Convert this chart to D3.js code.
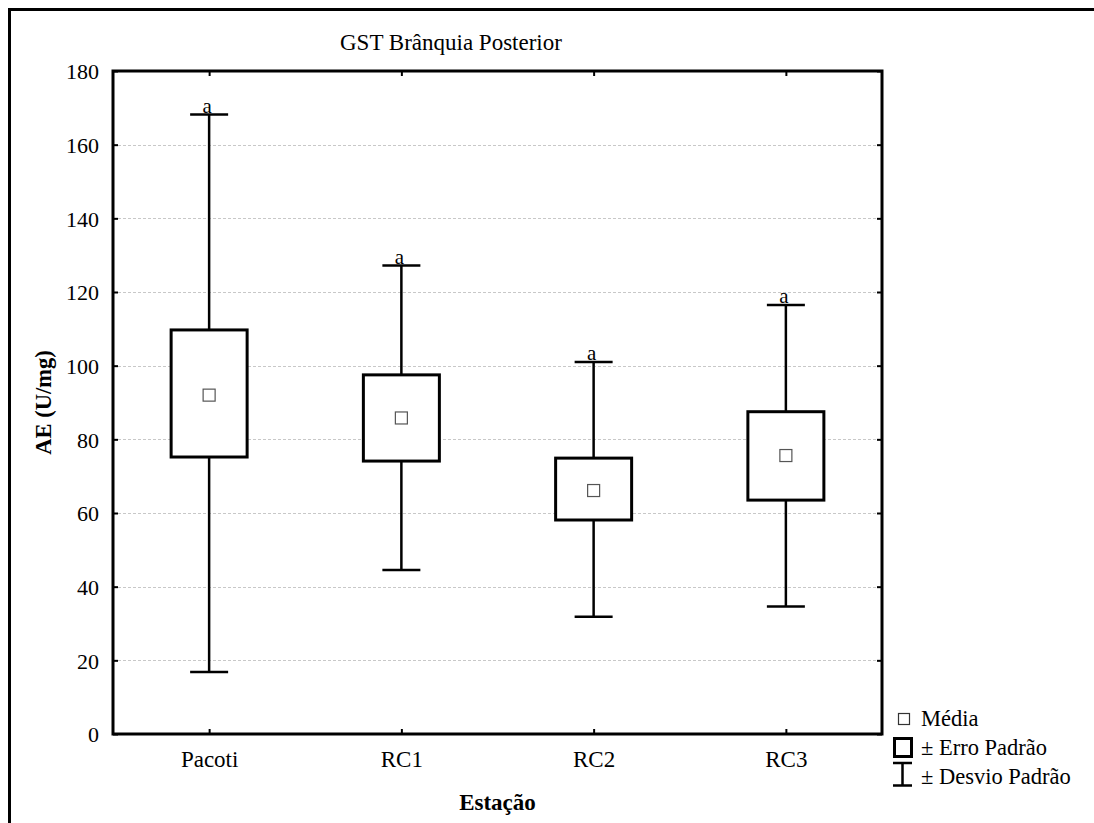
<!DOCTYPE html>
<html lang="en">
<head>
  <meta charset="UTF-8">
  <title>GST Brânquia Posterior</title>
  <script src="https://d3js.org/d3.v7.min.js"></script>
  <style>
    body { margin: 0; background: #fff; }
    svg text { font-family: "Liberation Serif", "Times New Roman", serif !important; fill: #000; }
  </style>
</head>
<body>
  <div id="chart"></div>
  <script>

    // data
    const stations = ['Pacoti', 'RC1', 'RC2', 'RC3'];
    const means = [92.0, 85.8, 66.1, 75.6];
    const seLow = [75.2, 74.1, 58.1, 63.5];
    const seHigh = [109.7, 97.5, 74.9, 87.5];
    const sdLow = [16.8, 44.5, 31.8, 34.6];
    const sdHigh = [168.2, 127.2, 101.0, 116.5];
    const groupLetters = ['a', 'a', 'a', 'a'];
    const yTicks = [0, 20, 40, 60, 80, 100, 120, 140, 160, 180];

    const width = 1094, height = 823;
    const margin = { top: 71, right: 212, bottom: 89, left: 113 };
    const plotW = width - margin.left - margin.right;
    const plotH = height - margin.top - margin.bottom;
    const serif = '"Liberation Serif", "Times New Roman", serif';

    const svg = d3.select('#chart').append('svg')
      .attr('width', width)
      .attr('height', height)
      .attr('font-family', serif);

    // outer frame (only top and left edges visible)
    svg.append('path')
      .attr('d', `M9.5,${height} V9.5 H${width + 5}`)
      .attr('fill', 'none')
      .attr('stroke', '#000')
      .attr('stroke-width', 3);

    const g = svg.append('g')
      .attr('transform', `translate(${margin.left},${margin.top})`);

    const x = d3.scalePoint()
      .domain(stations)
      .range([0, plotW])
      .padding(0.5);

    const y = d3.scaleLinear()
      .domain([0, 180])
      .range([plotH, 0]);

    // grid lines
    g.selectAll('.grid')
      .data(yTicks.filter(t => t > 0 && t < 180))
      .enter()
      .append('line')
      .attr('class', 'grid')
      .attr('x1', 0)
      .attr('x2', plotW)
      .attr('y1', d => Math.round(y(d)) + 0.5)
      .attr('y2', d => Math.round(y(d)) + 0.5)
      .attr('stroke', '#c8c8c8')
      .attr('stroke-width', 1)
      .attr('stroke-dasharray', '3,2');

    // axes
    const yAxis = g.append('g')
      .call(d3.axisLeft(y).tickValues(yTicks).tickSize(-5).tickPadding(14));
    yAxis.attr('font-family', serif);
    yAxis.select('.domain').remove();
    yAxis.selectAll('line').attr('stroke', '#000').attr('stroke-width', 2);
    yAxis.selectAll('text')
      .attr('font-family', serif)
      .style('font-size', '22px')
      .attr('dy', '0.35em');

    const yAxisR = g.append('g')
      .attr('transform', `translate(${plotW},0)`)
      .call(d3.axisRight(y).tickValues(yTicks).tickSize(-5).tickFormat(''));
    yAxisR.select('.domain').remove();
    yAxisR.selectAll('line').attr('stroke', '#000').attr('stroke-width', 2);

    const xAxis = g.append('g')
      .attr('transform', `translate(0,${plotH})`)
      .call(d3.axisBottom(x).tickSize(-5).tickPadding(17));
    xAxis.attr('font-family', serif);
    xAxis.select('.domain').remove();
    xAxis.selectAll('line').attr('stroke', '#000').attr('stroke-width', 2);
    xAxis.selectAll('text')
      .attr('font-family', serif)
      .style('font-size', '23px')
      .attr('dy', '0.71em');

    const xAxisT = g.append('g')
      .call(d3.axisTop(x).tickSize(-5).tickFormat(''));
    xAxisT.select('.domain').remove();
    xAxisT.selectAll('line').attr('stroke', '#000').attr('stroke-width', 2);

    // plot frame
    g.append('rect')
      .attr('x', 0)
      .attr('y', 0)
      .attr('width', plotW)
      .attr('height', plotH)
      .attr('fill', 'none')
      .attr('stroke', '#000')
      .attr('stroke-width', 3);

    const boxW = 76;
    const capW = 38;

    const rows = stations.map((s, i) => ({
      s: s, mean: means[i], seLow: seLow[i], seHigh: seHigh[i],
      sdLow: sdLow[i], sdHigh: sdHigh[i], letter: groupLetters[i]
    }));

    const comp = g.selectAll('.comp')
      .data(rows)
      .enter()
      .append('g')
      .attr('class', 'comp');

    // whiskers
    comp.append('line')
      .attr('x1', d => x(d.s))
      .attr('x2', d => x(d.s))
      .attr('y1', d => y(d.sdHigh))
      .attr('y2', d => y(d.seHigh))
      .attr('stroke', '#000')
      .attr('stroke-width', 2.5);
    comp.append('line')
      .attr('x1', d => x(d.s))
      .attr('x2', d => x(d.s))
      .attr('y1', d => y(d.seLow))
      .attr('y2', d => y(d.sdLow))
      .attr('stroke', '#000')
      .attr('stroke-width', 2.5);
    comp.append('line')
      .attr('x1', d => x(d.s) - capW / 2)
      .attr('x2', d => x(d.s) + capW / 2)
      .attr('y1', d => y(d.sdHigh))
      .attr('y2', d => y(d.sdHigh))
      .attr('stroke', '#000')
      .attr('stroke-width', 2.5);
    comp.append('line')
      .attr('x1', d => x(d.s) - capW / 2)
      .attr('x2', d => x(d.s) + capW / 2)
      .attr('y1', d => y(d.sdLow))
      .attr('y2', d => y(d.sdLow))
      .attr('stroke', '#000')
      .attr('stroke-width', 2.5);

    // standard error boxes
    comp.append('rect')
      .attr('x', d => x(d.s) - boxW / 2)
      .attr('y', d => y(d.seHigh))
      .attr('width', boxW)
      .attr('height', d => y(d.seLow) - y(d.seHigh))
      .attr('fill', '#fff')
      .attr('stroke', '#000')
      .attr('stroke-width', 3);

    // mean markers
    comp.append('rect')
      .attr('x', d => x(d.s) - 6)
      .attr('y', d => y(d.mean) - 6)
      .attr('width', 12)
      .attr('height', 12)
      .attr('fill', '#fff')
      .attr('stroke', '#555')
      .attr('stroke-width', 1.2);

    // group letters
    comp.append('text')
      .attr('x', d => x(d.s) - 2)
      .attr('y', d => y(d.sdHigh) - 1.5)
      .attr('text-anchor', 'middle')
      .style('font-size', '21px')
      .text(d => d.letter);

    // titles
    svg.append('text')
      .attr('x', 340)
      .attr('y', 50)
      .style('font-size', '23px')
      .text('GST Brânquia Posterior');

    svg.append('text')
      .attr('x', margin.left + plotW / 2)
      .attr('y', 810)
      .attr('text-anchor', 'middle')
      .style('font-size', '23px')
      .style('font-weight', 'bold')
      .text('Estação');

    svg.append('text')
      .attr('transform', `translate(51,${margin.top + plotH / 2}) rotate(-90)`)
      .attr('text-anchor', 'middle')
      .style('font-size', '22.5px')
      .style('font-weight', 'bold')
      .text('AE (U/mg)');

    // legend
    const leg = svg.append('g').attr('transform', 'translate(893,0)');
    leg.append('rect')
      .attr('x', 5.5).attr('y', 713.5).attr('width', 11).attr('height', 11)
      .attr('fill', '#fff').attr('stroke', '#333').attr('stroke-width', 1.2);
    leg.append('text').attr('x', 28).attr('y', 726).style('font-size', '22.5px').text('Média');

    leg.append('rect')
      .attr('x', 1.5).attr('y', 738.5).attr('width', 17).attr('height', 18)
      .attr('fill', '#fff').attr('stroke', '#000').attr('stroke-width', 3);
    leg.append('text').attr('x', 28).attr('y', 755).style('font-size', '22.5px').text('± Erro Padrão');

    leg.append('path')
      .attr('d', 'M0,763 H19 M9.5,763 V785.5 M0,785.5 H19')
      .attr('fill', 'none').attr('stroke', '#000').attr('stroke-width', 2.5);
    leg.append('text').attr('x', 28).attr('y', 784).style('font-size', '22.5px').text('± Desvio Padrão');

  </script>
</body>
</html>
